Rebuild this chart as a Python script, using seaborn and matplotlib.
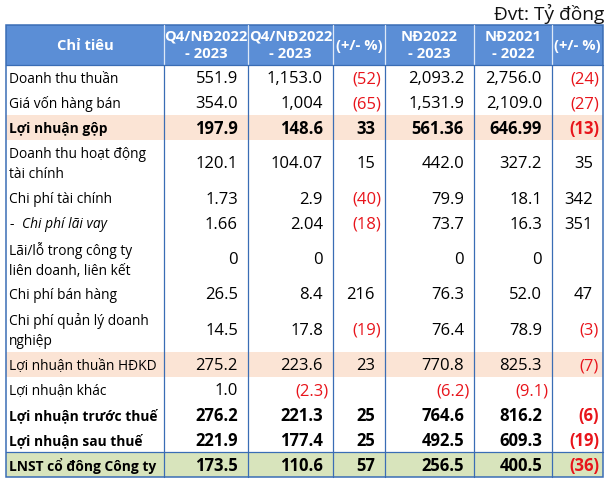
import matplotlib
matplotlib.use("Agg")
import matplotlib.pyplot as plt
from matplotlib.patches import Rectangle
import seaborn as sns

# ---------------- data ----------------
unit_note = "Đvt: Tỷ đồng"
col_headers = ["Chỉ tiêu", "Q4/NĐ2022\n- 2023", "Q4/NĐ2022\n- 2023", "(+/- %)",
               "NĐ2022\n- 2023", "NĐ2021\n- 2022", "(+/- %)"]
row_labels = ["Doanh thu thuần", "Giá vốn hàng bán", "Lợi nhuận gộp",
              "Doanh thu hoạt động\ntài chính", "Chi phí tài chính", "Chi phí lãi vay",
              "Lãi/lỗ trong công ty\nliên doanh, liên kết", "Chi phí bán hàng",
              "Chi phí quản lý doanh\nnghiệp", "Lợi nhuận thuần HĐKD", "Lợi nhuận khác",
              "Lợi nhuận trước thuế", "Lợi nhuận sau thuế", "LNST cổ đông Công ty"]
q4_a = [551.9, 354.0, 197.9, 120.1, 1.73, 1.66, 0, 26.5, 14.5, 275.2, 1.0, 276.2, 221.9, 173.5]
q4_a_dec = [1, 1, 1, 1, 2, 2, 0, 1, 1, 1, 1, 1, 1, 1]
q4_b = [1153.0, 1004, 148.6, 104.07, 2.9, 2.04, 0, 8.4, 17.8, 223.6, -2.3, 221.3, 177.4, 110.6]
q4_b_dec = [1, 0, 1, 2, 1, 2, 0, 1, 1, 1, 1, 1, 1, 1]
q4_pct = [-52, -65, 33, 15, -40, -18, None, 216, -19, 23, None, 25, 25, 57]
fy23 = [2093.2, 1531.9, 561.36, 442.0, 79.9, 73.7, 0, 76.3, 76.4, 770.8, -6.2, 764.6, 492.5, 256.5]
fy23_dec = [1, 1, 2, 1, 1, 1, 0, 1, 1, 1, 1, 1, 1, 1]
fy22 = [2756.0, 2109.0, 646.99, 327.2, 18.1, 16.3, 0, 52.0, 78.9, 825.3, -9.1, 816.2, 609.3, 400.5]
fy22_dec = [1, 1, 2, 1, 1, 1, 0, 1, 1, 1, 1, 1, 1, 1]
fy_pct = [-24, -27, -13, 35, 342, 351, None, 47, -3, -7, None, -6, -19, -36]
pct_dec = [0] * 14

bold_rows = [2, 11, 12, 13]
italic_rows = [5]
double_rows = [3, 6, 8]
row_fill = {2: "#FBE4D5", 9: "#FBE4D5", 13: "#D8E4BC"}

# ---------------- style ----------------
sns.set_theme(style="white")
plt.rcParams["font.family"] = ["Open Sans", "DejaVu Sans"]
FS_LABEL = 9.9
FS_NUM = 12.0
FS_HEAD = 10.6
FS_UNIT = 13.8
BLUE_HDR = "#5B8ED6"
LINE = "#3A6DB5"
RED = "#E8141B"

fig = plt.figure(figsize=(6.11, 4.79), dpi=100)
ax = fig.add_axes([0, 0, 1, 1])
ax.set_xlim(0, 611)
ax.set_ylim(479, 0)
ax.axis("off")

cx = [6, 164, 248, 333, 385, 474, 552, 603]
top, hdr_bot = 25, 65
h_single, h_double = 25.0, 45.7
heights = [h_double if i in double_rows else h_single for i in range(len(row_labels))]
ys = [hdr_bot]
for h in heights:
    ys.append(ys[-1] + h)
bottom = ys[-1]

# unit note
ax.text(cx[-1] + 1, 13.5, unit_note, ha="right", va="center", fontsize=FS_UNIT, color="#111")

# header
ax.add_patch(Rectangle((cx[0], top), cx[-1] - cx[0], hdr_bot - top, color=BLUE_HDR, lw=0))
for j, head in enumerate(col_headers):
    xm = (cx[j] + cx[j + 1]) / 2
    ax.text(xm, (top + hdr_bot) / 2 + 0.5, head, ha="center", va="center", fontsize=FS_HEAD,
            color="white", fontweight="bold", linespacing=1.3)

# row fills
for i, c in row_fill.items():
    ax.add_patch(Rectangle((cx[0], ys[i]), cx[-1] - cx[0], ys[i + 1] - ys[i], color=c, lw=0))

# lines
for x in cx[1:-1]:
    ax.plot([x, x], [top, hdr_bot], color="white", lw=0.9, alpha=0.8)
    ax.plot([x, x], [hdr_bot, bottom], color=LINE, lw=0.9)
ax.plot([cx[0], cx[-1]], [hdr_bot, hdr_bot], color=LINE, lw=0.9)
ax.plot([cx[0], cx[-1]], [ys[13], ys[13]], color=LINE, lw=0.9)
ax.add_patch(Rectangle((cx[0], top), cx[-1] - cx[0], bottom - top, fill=False,
                       ec=LINE, lw=1.1))


def fmt(v, d):
    if v is None:
        return "", "black"
    s = f"{abs(v):,.{d}f}"
    if v < 0:
        return f"({s})", RED
    return s, "#000"


value_cols = [(q4_a, q4_a_dec), (q4_b, q4_b_dec), (q4_pct, pct_dec),
              (fy23, fy23_dec), (fy22, fy22_dec), (fy_pct, pct_dec)]

for i, lab in enumerate(row_labels):
    yc = (ys[i] + ys[i + 1]) / 2 + 1.5
    w = "bold" if i in bold_rows else "normal"
    if i in italic_rows:
        ax.text(cx[0] + 3, yc, "-", ha="left", va="center", fontsize=FS_LABEL, color="#000")
        ax.text(cx[0] + 16, yc, lab, ha="left", va="center", fontsize=FS_LABEL, color="#000",
                fontstyle="italic")
    else:
        ax.text(cx[0] + 3, yc, lab, ha="left", va="center", fontsize=FS_LABEL, color="#000",
                fontweight=w, linespacing=1.45)
    for j, (vals, decs) in enumerate(value_cols):
        s, col = fmt(vals[i], decs[i])
        if not s:
            continue
        right = cx[j + 2]
        xr = right - 4 if s.startswith("(") else right - 10
        ax.text(xr, yc, s, ha="right", va="center", fontsize=FS_NUM, color=col,
                fontweight=w)

fig.savefig("out.png", dpi=100, facecolor="white")
